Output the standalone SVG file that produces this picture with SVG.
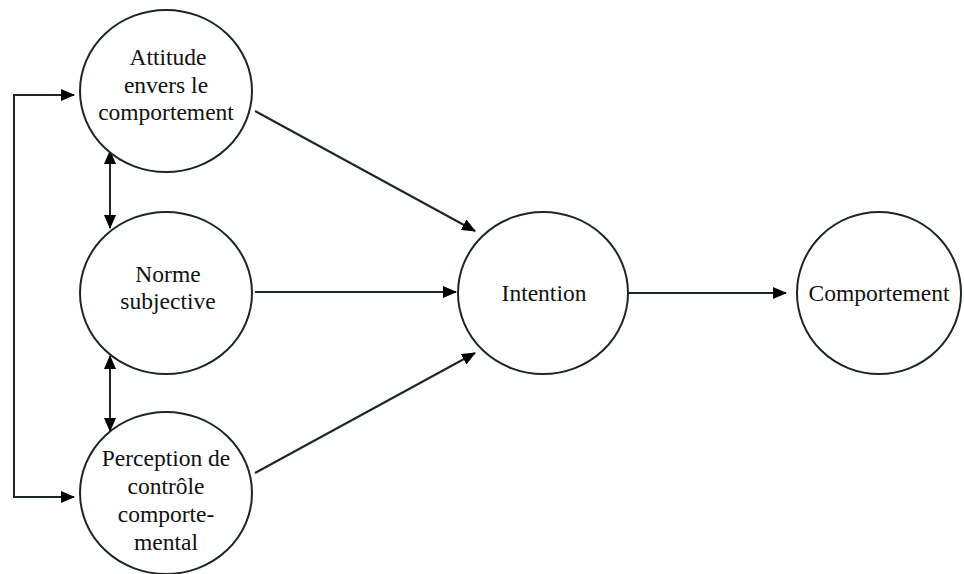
<svg xmlns="http://www.w3.org/2000/svg" width="964" height="574" viewBox="0 0 964 574">
<style>
.n{fill:#fff;stroke:#1c2628;stroke-width:2}
.t{font-family:"Liberation Serif","Times New Roman",serif;font-size:23.5px;fill:#111;text-anchor:middle}
.c{stroke:#1c2628;stroke-width:2;fill:none}
</style>
<defs>
<marker id="a" markerWidth="14" markerHeight="12" refX="13" refY="6" orient="auto-start-reverse" markerUnits="userSpaceOnUse" viewBox="0 0 14 12">
<path d="M0,0L14,6L0,12z" fill="#000"/>
</marker>
</defs>
<rect width="964" height="574" fill="#fff"/>
<g id="connectors">
<polyline class="c" points="74,95 14,95 14,497 74,497" marker-start="url(#a)" marker-end="url(#a)"/>
<line class="c" x1="110" y1="151" x2="110" y2="228" marker-start="url(#a)" marker-end="url(#a)"/>
<line class="c" x1="110" y1="356" x2="110" y2="431" marker-start="url(#a)" marker-end="url(#a)"/>
<line class="c" x1="255" y1="111" x2="475" y2="231" marker-end="url(#a)"/>
<line class="c" x1="255" y1="292" x2="456" y2="292" marker-end="url(#a)"/>
<line class="c" x1="255" y1="473" x2="475" y2="353" marker-end="url(#a)"/>
<line class="c" x1="628" y1="293" x2="786" y2="293" marker-end="url(#a)"/>
</g>
<g id="attitude">
<ellipse class="n" cx="166" cy="91" rx="86" ry="81"/>
<text class="t" x="168" y="65">Attitude</text>
<text class="t" x="166" y="93">envers le</text>
<text class="t" x="166" y="120">comportement</text>
</g>
<g id="norme">
<ellipse class="n" cx="166" cy="293" rx="86" ry="81"/>
<text class="t" x="168" y="282">Norme</text>
<text class="t" x="168" y="309">subjective</text>
</g>
<g id="perception">
<ellipse class="n" cx="166" cy="493" rx="86" ry="81"/>
<text class="t" x="166" y="466">Perception de</text>
<text class="t" x="166" y="494">contrôle</text>
<text class="t" x="166" y="522">comporte-</text>
<text class="t" x="166" y="550">mental</text>
</g>
<g id="intention">
<ellipse class="n" cx="543" cy="293" rx="85" ry="81"/>
<text class="t" x="544" y="301">Intention</text>
</g>
<g id="comportement">
<ellipse class="n" cx="879" cy="293" rx="82" ry="81"/>
<text class="t" x="879" y="301">Comportement</text>
</g>
</svg>
